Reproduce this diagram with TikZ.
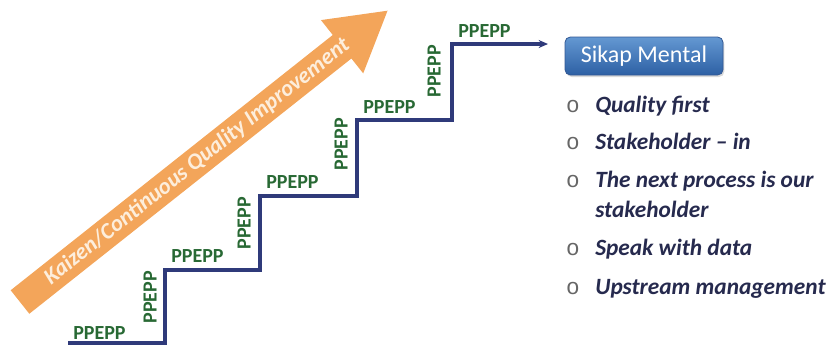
\documentclass[tikz,border=0pt]{standalone}
\usepackage{fontspec}
\setmainfont{Carlito}
\newfontfamily\bulletfont{Liberation Mono}
\usetikzlibrary{arrows.meta,shadows}
\definecolor{stairblue}{RGB}{47,58,122}
\definecolor{stepgreen}{RGB}{40,105,52}
\definecolor{kaizenorange}{RGB}{243,165,90}
\definecolor{kaizencream}{RGB}{253,238,220}
\definecolor{itemnavy}{RGB}{38,42,78}
\definecolor{boxtop}{RGB}{100,152,210}
\definecolor{boxbottom}{RGB}{45,96,164}
\definecolor{boxedge}{RGB}{50,88,148}
\begin{document}
\begin{tikzpicture}[x=0.75pt,y=-0.75pt,
      stair/.style={draw=stairblue,line width=2.7pt},
      treadlabel/.style={anchor=base west,inner sep=0pt,text=stepgreen,
        font=\fontsize{15}{18}\selectfont\bfseries},
      riserlabel/.style={treadlabel,anchor=south east,rotate=90},
      item/.style={anchor=base west,inner sep=0pt,text=itemnavy,
        font=\fontsize{17.5}{21}\selectfont\bfseries\itshape},
      bullet/.style={anchor=base,inner sep=0pt,text=black!60,
        font=\fontsize{17}{19}\bulletfont}]
      \useasboundingbox (0,0) rectangle (836,347);
      \begin{scope}[shift={(20,302)},rotate=38.4]
       \fill[kaizenorange] (0,-15)--(411,-15)--(411,-34)--(469,0)
         --(411,34)--(411,15)--(0,15)--cycle;
       \path (226,0) node[transform shape,inner sep=0pt,text=kaizencream,
         font=\fontsize{17}{20}\selectfont\bfseries\itshape] (kaizen)
         {Kaizen/Continuous Quality Improvement};
      \end{scope}
      \coordinate (stairstart) at (68,343);
      \coordinate (stairend) at (548,44);
      \draw[stair,-{Stealth[length=7pt,width=6pt]}] (stairstart) -| (165,270)
        -| (260,196) -| (357,120) -| (452,44) -- (stairend);
      \path (73,339) node[treadlabel] (treadA) {PPEPP};
      \path (171,262) node[treadlabel] (treadB) {PPEPP};
      \path (266,188) node[treadlabel] (treadC) {PPEPP};
      \path (363,113) node[treadlabel] (treadD) {PPEPP};
      \path (458,37) node[treadlabel] (treadE) {PPEPP};
      \path (157,271) node[riserlabel] (riserA) {PPEPP};
      \path (251,197) node[riserlabel] (riserB) {PPEPP};
      \path (348,118) node[riserlabel] (riserC) {PPEPP};
      \path (441,45) node[riserlabel] (riserD) {PPEPP};
      \path (644,56) node[rounded corners=4pt,draw=boxedge,line width=0.6pt,
        top color=boxtop,bottom color=boxbottom,text=white,
        minimum width=118.5pt,minimum height=28.5pt,
        drop shadow={opacity=0.3,shadow xshift=1pt,shadow yshift=-1.5pt},
        font=\fontsize{18}{21}\selectfont] (mental) {Sikap Mental};
      \path (573,112) node[bullet] (dotA) {o};
      \path (573,149) node[bullet] (dotB) {o};
      \path (573,187) node[bullet] (dotC) {o};
      \path (573,255) node[bullet] (dotD) {o};
      \path (573,294) node[bullet] (dotE) {o};
      \path (595,112) node[item] (itemA) {Quality first};
      \path (595,149) node[item] (itemB) {Stakeholder – in};
      \path (595,187) node[item] (itemC) {The next process is our};
      \path (595,217) node[item] (itemCc) {stakeholder};
      \path (595,255) node[item] (itemD) {Speak with data};
      \path (595,294) node[item] (itemE) {Upstream management};
\end{tikzpicture}
\end{document}
